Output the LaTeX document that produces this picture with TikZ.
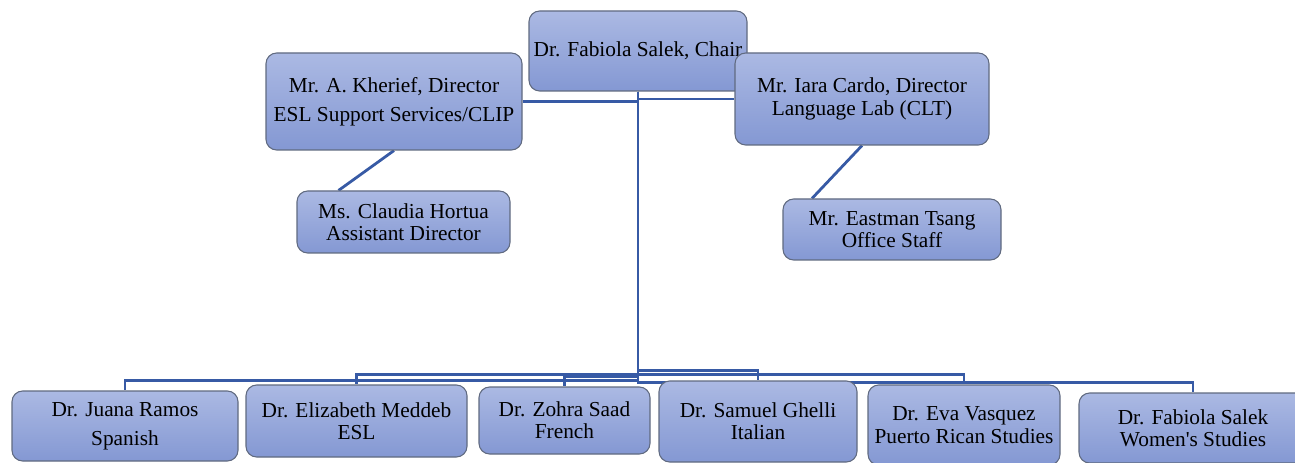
\documentclass[tikz,border=0pt]{standalone}
\usepackage{fontspec}
\setmainfont{Liberation Serif}[Ligatures=TeXOff]
\usetikzlibrary{backgrounds}
\definecolor{boxtop}{RGB}{171,185,227}
\definecolor{boxbot}{RGB}{132,152,211}
\definecolor{boxline}{RGB}{96,106,128}
\definecolor{connblue}{RGB}{55,90,165}
\tikzset{
  orgbox/.style 2 args={draw=boxline, line width=0.8pt, rounded corners=8pt,
    top color=boxtop, bottom color=boxbot, inner sep=0pt, align=center,
    minimum width=#1*0.75pt, minimum height=#2*0.75pt,
    font=\fontsize{16}{16.8}\selectfont},
  widelead/.style={font=\fontsize{16}{21.75}\selectfont},
  conn/.style={draw=connblue, line width=2.1pt},
}
\begin{document}
\begin{tikzpicture}[x=0.75pt,y=-0.75pt]
\useasboundingbox (0,0) rectangle (1295,463);
% top level
\node[orgbox={218}{80}] (chair) at (638,51) {Dr. Fabiola Salek, Chair};
\node[orgbox={256}{97},widelead] (kh) at (394,101.5) {Mr. A. Kherief, Director\\ESL Support Services/CLIP};
\node[orgbox={254}{92}] (cardo) at (862,99) {Mr. Iara Cardo, Director\\Language Lab (CLT)};
\node[orgbox={213}{62}] (hort) at (403.5,222) {Ms. Claudia Hortua\\Assistant Director};
\node[orgbox={218}{61}] (tsang) at (892,229.5) {Mr. Eastman Tsang\\Office Staff};
% bottom row
\node[orgbox={226}{70},widelead] (ramos) at (125,426) {Dr. Juana Ramos\\Spanish};
\node[orgbox={221}{72}] (meddeb) at (356.5,421) {Dr. Elizabeth Meddeb\\ESL};
\node[orgbox={171}{67}] (saad) at (564.5,420.5) {Dr. Zohra Saad\\French};
\node[orgbox={198}{81}] (ghelli) at (758,421.5) {Dr. Samuel Ghelli\\Italian};
\node[orgbox={192}{80}] (vasq) at (964,425) {Dr. Eva Vasquez\\Puerto Rican Studies};
\node[orgbox={228}{70}] (salekws) at (1193,428) {Dr. Fabiola Salek\\Women's Studies};
\begin{scope}[on background layer]
  \draw[conn] (chair.south) |- (kh.east);
  \draw[conn] (chair.south) |- (cardo.west);
  \draw[conn] (kh.south) -- ([xshift=-65*0.75pt]hort.north);
  \draw[conn] (cardo.south) -- ([xshift=-80*0.75pt]tsang.north);
  \foreach \c in {ramos,meddeb,saad,ghelli,vasq,salekws}{
    \draw[conn] (chair.south) |- ([yshift=7.5pt]\c.north) -- (\c.north);
  }
\end{scope}
\end{tikzpicture}
\end{document}
